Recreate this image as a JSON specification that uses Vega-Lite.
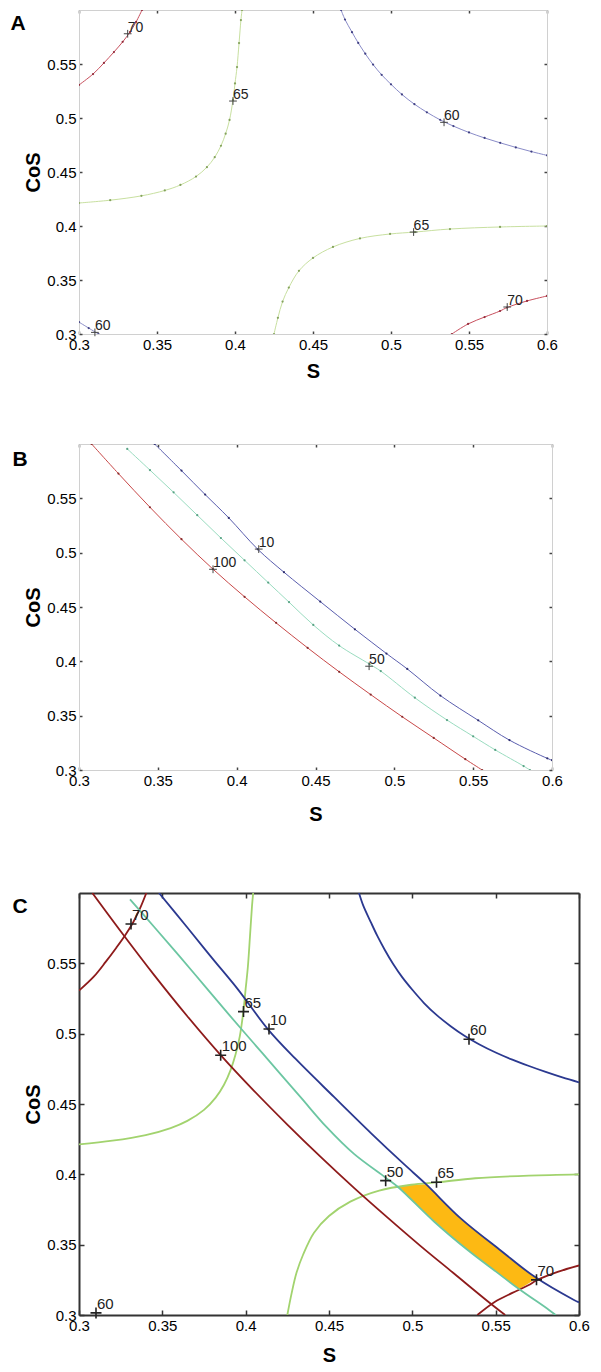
{
"$schema":"https://vega.github.io/schema/vega-lite/v6.json",
"background":"white",
"padding":{"left":10,"top":9,"right":5,"bottom":2},
"spacing":62,
"datasets":{
"curves":[
{"fn":"A","lev":"70","id":"70a","S":0.3,"CoS":0.5306},{"fn":"A","lev":"70","id":"70a","S":0.309,"CoS":0.5407},{"fn":"A","lev":"70","id":"70a","S":0.316,"CoS":0.551},{"fn":"A","lev":"70","id":"70a","S":0.3224,"CoS":0.5611},{"fn":"A","lev":"70","id":"70a","S":0.328,"CoS":0.5705},{"fn":"A","lev":"70","id":"70a","S":0.3327,"CoS":0.5796},{"fn":"A","lev":"70","id":"70a","S":0.3366,"CoS":0.589},{"fn":"A","lev":"70","id":"70a","S":0.3404,"CoS":0.6},
{"fn":"A","lev":"70","id":"70b","S":0.539,"CoS":0.3},{"fn":"A","lev":"70","id":"70b","S":0.5494,"CoS":0.3093},{"fn":"A","lev":"70","id":"70b","S":0.56,"CoS":0.3157},{"fn":"A","lev":"70","id":"70b","S":0.5699,"CoS":0.3213},{"fn":"A","lev":"70","id":"70b","S":0.5744,"CoS":0.3245},{"fn":"A","lev":"70","id":"70b","S":0.5872,"CoS":0.3306},{"fn":"A","lev":"70","id":"70b","S":0.6,"CoS":0.3352},
{"fn":"A","lev":"65","id":"65a","S":0.3,"CoS":0.4213},{"fn":"A","lev":"65","id":"65a","S":0.32,"CoS":0.4239},{"fn":"A","lev":"65","id":"65a","S":0.34,"CoS":0.4279},{"fn":"A","lev":"65","id":"65a","S":0.355,"CoS":0.4329},{"fn":"A","lev":"65","id":"65a","S":0.365,"CoS":0.438},{"fn":"A","lev":"65","id":"65a","S":0.375,"CoS":0.4458},{"fn":"A","lev":"65","id":"65a","S":0.382,"CoS":0.4545},{"fn":"A","lev":"65","id":"65a","S":0.387,"CoS":0.4637},{"fn":"A","lev":"65","id":"65a","S":0.391,"CoS":0.4743},{"fn":"A","lev":"65","id":"65a","S":0.394,"CoS":0.4855},{"fn":"A","lev":"65","id":"65a","S":0.3965,"CoS":0.4982},{"fn":"A","lev":"65","id":"65a","S":0.3987,"CoS":0.5167},{"fn":"A","lev":"65","id":"65a","S":0.4,"CoS":0.532},{"fn":"A","lev":"65","id":"65a","S":0.4013,"CoS":0.5472},{"fn":"A","lev":"65","id":"65a","S":0.4026,"CoS":0.5694},{"fn":"A","lev":"65","id":"65a","S":0.4038,"CoS":0.5907},{"fn":"A","lev":"65","id":"65a","S":0.4045,"CoS":0.6},
{"fn":"A","lev":"65","id":"65b","S":0.425,"CoS":0.3},{"fn":"A","lev":"65","id":"65b","S":0.4275,"CoS":0.315},{"fn":"A","lev":"65","id":"65b","S":0.4305,"CoS":0.33},{"fn":"A","lev":"65","id":"65b","S":0.4345,"CoS":0.343},{"fn":"A","lev":"65","id":"65b","S":0.441,"CoS":0.3585},{"fn":"A","lev":"65","id":"65b","S":0.45,"CoS":0.3704},{"fn":"A","lev":"65","id":"65b","S":0.4628,"CoS":0.3806},{"fn":"A","lev":"65","id":"65b","S":0.4801,"CoS":0.3885},{"fn":"A","lev":"65","id":"65b","S":0.4994,"CoS":0.3926},{"fn":"A","lev":"65","id":"65b","S":0.5154,"CoS":0.3944},{"fn":"A","lev":"65","id":"65b","S":0.5378,"CoS":0.3972},{"fn":"A","lev":"65","id":"65b","S":0.5699,"CoS":0.3991},{"fn":"A","lev":"65","id":"65b","S":0.6,"CoS":0.4},
{"fn":"A","lev":"60","id":"60a","S":0.468,"CoS":0.6},{"fn":"A","lev":"60","id":"60a","S":0.4705,"CoS":0.5912},{"fn":"A","lev":"60","id":"60a","S":0.475,"CoS":0.5795},{"fn":"A","lev":"60","id":"60a","S":0.479,"CoS":0.5695},{"fn":"A","lev":"60","id":"60a","S":0.4835,"CoS":0.5595},{"fn":"A","lev":"60","id":"60a","S":0.4885,"CoS":0.5495},{"fn":"A","lev":"60","id":"60a","S":0.494,"CoS":0.54},{"fn":"A","lev":"60","id":"60a","S":0.5,"CoS":0.5312},{"fn":"A","lev":"60","id":"60a","S":0.507,"CoS":0.5218},{"fn":"A","lev":"60","id":"60a","S":0.515,"CoS":0.5128},{"fn":"A","lev":"60","id":"60a","S":0.523,"CoS":0.5053},{"fn":"A","lev":"60","id":"60a","S":0.5315,"CoS":0.4983},{"fn":"A","lev":"60","id":"60a","S":0.54,"CoS":0.4925},{"fn":"A","lev":"60","id":"60a","S":0.55,"CoS":0.4866},{"fn":"A","lev":"60","id":"60a","S":0.56,"CoS":0.4815},{"fn":"A","lev":"60","id":"60a","S":0.57,"CoS":0.477},{"fn":"A","lev":"60","id":"60a","S":0.58,"CoS":0.4728},{"fn":"A","lev":"60","id":"60a","S":0.59,"CoS":0.4689},{"fn":"A","lev":"60","id":"60a","S":0.6,"CoS":0.4654},
{"fn":"A","lev":"60","id":"60b","S":0.3,"CoS":0.311},{"fn":"A","lev":"60","id":"60b","S":0.3062,"CoS":0.3055},{"fn":"A","lev":"60","id":"60b","S":0.3125,"CoS":0.3},
{"fn":"B","lev":"10","id":"10","S":0.348,"CoS":0.6},{"fn":"B","lev":"10","id":"10","S":0.365,"CoS":0.5755},{"fn":"B","lev":"10","id":"10","S":0.38,"CoS":0.5535},{"fn":"B","lev":"10","id":"10","S":0.395,"CoS":0.532},{"fn":"B","lev":"10","id":"10","S":0.4134,"CoS":0.5031},{"fn":"B","lev":"10","id":"10","S":0.43,"CoS":0.482},{"fn":"B","lev":"10","id":"10","S":0.453,"CoS":0.455},{"fn":"B","lev":"10","id":"10","S":0.475,"CoS":0.4295},{"fn":"B","lev":"10","id":"10","S":0.495,"CoS":0.4072},{"fn":"B","lev":"10","id":"10","S":0.5082,"CoS":0.393},{"fn":"B","lev":"10","id":"10","S":0.5292,"CoS":0.3685},{"fn":"B","lev":"10","id":"10","S":0.5532,"CoS":0.3457},{"fn":"B","lev":"10","id":"10","S":0.573,"CoS":0.3275},{"fn":"B","lev":"10","id":"10","S":0.597,"CoS":0.3107},{"fn":"B","lev":"10","id":"10","S":0.6,"CoS":0.309},
{"fn":"B","lev":"50","id":"50","S":0.3306,"CoS":0.5955},{"fn":"B","lev":"50","id":"50","S":0.345,"CoS":0.576},{"fn":"B","lev":"50","id":"50","S":0.36,"CoS":0.5555},{"fn":"B","lev":"50","id":"50","S":0.375,"CoS":0.5345},{"fn":"B","lev":"50","id":"50","S":0.39,"CoS":0.5135},{"fn":"B","lev":"50","id":"50","S":0.405,"CoS":0.493},{"fn":"B","lev":"50","id":"50","S":0.42,"CoS":0.4725},{"fn":"B","lev":"50","id":"50","S":0.4332,"CoS":0.4545},{"fn":"B","lev":"50","id":"50","S":0.4486,"CoS":0.4335},{"fn":"B","lev":"50","id":"50","S":0.465,"CoS":0.4145},{"fn":"B","lev":"50","id":"50","S":0.4842,"CoS":0.3975},{"fn":"B","lev":"50","id":"50","S":0.4914,"CoS":0.391},{"fn":"B","lev":"50","id":"50","S":0.513,"CoS":0.3665},{"fn":"B","lev":"50","id":"50","S":0.5334,"CoS":0.346},{"fn":"B","lev":"50","id":"50","S":0.55,"CoS":0.331},{"fn":"B","lev":"50","id":"50","S":0.564,"CoS":0.3185},{"fn":"B","lev":"50","id":"50","S":0.582,"CoS":0.3036},{"fn":"B","lev":"50","id":"50","S":0.586,"CoS":0.3},
{"fn":"B","lev":"100","id":"100","S":0.308,"CoS":0.6},{"fn":"B","lev":"100","id":"100","S":0.325,"CoS":0.5728},{"fn":"B","lev":"100","id":"100","S":0.345,"CoS":0.5418},{"fn":"B","lev":"100","id":"100","S":0.365,"CoS":0.5124},{"fn":"B","lev":"100","id":"100","S":0.385,"CoS":0.4848},{"fn":"B","lev":"100","id":"100","S":0.405,"CoS":0.4594},{"fn":"B","lev":"100","id":"100","S":0.425,"CoS":0.4354},{"fn":"B","lev":"100","id":"100","S":0.445,"CoS":0.4124},{"fn":"B","lev":"100","id":"100","S":0.465,"CoS":0.3904},{"fn":"B","lev":"100","id":"100","S":0.485,"CoS":0.3694},{"fn":"B","lev":"100","id":"100","S":0.505,"CoS":0.349},{"fn":"B","lev":"100","id":"100","S":0.525,"CoS":0.3295},{"fn":"B","lev":"100","id":"100","S":0.545,"CoS":0.31},{"fn":"B","lev":"100","id":"100","S":0.5557,"CoS":0.3}
],
"labels":[
{"fn":"A","t":"70","S":0.3312,"CoS":0.578},{"fn":"A","t":"65","S":0.3987,"CoS":0.5157},{"fn":"A","t":"60","S":0.534,"CoS":0.496},{"fn":"A","t":"65","S":0.5145,"CoS":0.3944},{"fn":"A","t":"70","S":0.5745,"CoS":0.325},{"fn":"A","t":"60","S":0.3102,"CoS":0.3015},
{"fn":"B","t":"10","S":0.414,"CoS":0.5033},{"fn":"B","t":"100","S":0.385,"CoS":0.4847},{"fn":"B","t":"50","S":0.484,"CoS":0.3955}
],
"region":[
{"S":0.4914,"lo":0.3909,"hi":0.3912},{"S":0.5,"lo":0.381,"hi":0.3926},{"S":0.5082,"lo":0.372,"hi":0.393},{"S":0.52,"lo":0.3595,"hi":0.3792},{"S":0.5292,"lo":0.3502,"hi":0.3685},{"S":0.5334,"lo":0.346,"hi":0.3645},{"S":0.5532,"lo":0.3281,"hi":0.3457},{"S":0.564,"lo":0.3185,"hi":0.3355},{"S":0.5685,"lo":0.3215,"hi":0.3315},{"S":0.573,"lo":0.3248,"hi":0.3275},{"S":0.5747,"lo":0.326,"hi":0.326}
]
},
"vconcat":[
{
"width":468,"height":324,
"title":{"text":"A","orient":"left","anchor":"end","frame":"group","angle":0,"align":"right","baseline":"top","fontSize":21,"fontWeight":"bold","color":"#000","offset":-17,"dy":3},
"layer":[
{"data":{"name":"curves"},"transform":[{"filter":"datum.fn=='A'"}],
"mark":{"type":"line","clip":true,"strokeWidth":1,"interpolate":"catmull-rom"},
"encoding":{
"x":{"field":"S","type":"quantitative","scale":{"domain":[0.3,0.6],"nice":false,"zero":false},"axis":{"orient":"bottom","values":[0.3,0.35,0.4,0.45,0.5,0.55,0.6],"format":"~g","title":"S","tickSize":-3,"labelPadding":6,"titlePadding":9,"domainColor":"#d0d0d0","tickColor":"#444","tickWidth":1.5}},
"y":{"field":"CoS","type":"quantitative","scale":{"domain":[0.3,0.6],"nice":false,"zero":false},"axis":{"orient":"left","values":[0.3,0.35,0.4,0.45,0.5,0.55],"format":"~g","title":"CoS","tickSize":-3,"labelPadding":6,"titlePadding":3,"domainColor":"#d0d0d0","tickColor":"#444","tickWidth":1.5}},
"color":{"field":"lev","type":"nominal","scale":{"domain":["60","65","70"],"range":["#8a8cc8","#c8e0a0","#c8505e"]},"legend":null},
"detail":{"field":"id","type":"nominal"}}},
{"data":{"name":"curves"},"transform":[{"filter":"datum.fn=='A'"}],
"mark":{"type":"point","filled":true,"size":5,"clip":true,"opacity":0.9},
"encoding":{
"x":{"field":"S","type":"quantitative","scale":{"domain":[0.3,0.6],"nice":false,"zero":false},"axis":{"orient":"top","values":[0.3,0.35,0.4,0.45,0.5,0.55,0.6],"labels":false,"title":null,"tickSize":-3,"domainColor":"#d0d0d0","tickColor":"#444","tickWidth":1.5}},
"y":{"field":"CoS","type":"quantitative","scale":{"domain":[0.3,0.6],"nice":false,"zero":false},"axis":{"orient":"right","values":[0.3,0.35,0.4,0.45,0.5,0.55],"labels":false,"title":null,"tickSize":-3,"domainColor":"#d0d0d0","tickColor":"#444","tickWidth":1.5}},
"fill":{"field":"lev","type":"nominal","scale":{"domain":["60","65","70"],"range":["#33337a","#7a9a50","#8b2030"]},"legend":null}}},
{"data":{"name":"labels"},"transform":[{"filter":"datum.fn=='A'"}],
"mark":{"type":"point","shape":"M-1,0H1M0,-1V1","size":60,"strokeWidth":1,"color":"#444","filled":false,"opacity":1},
"encoding":{"x":{"field":"S","type":"quantitative","axis":null},"y":{"field":"CoS","type":"quantitative","axis":null}}},
{"data":{"name":"labels"},"transform":[{"filter":"datum.fn=='A'"}],
"mark":{"type":"text","align":"left","baseline":"alphabetic","dx":0,"dy":-2,"fontSize":14,"color":"#222"},
"encoding":{"x":{"field":"S","type":"quantitative","axis":null},"y":{"field":"CoS","type":"quantitative","axis":null},"text":{"field":"t"}}}
],
"resolve":{"axis":{"x":"independent","y":"independent"}}
},
{
"width":473,"height":326,
"title":{"text":"B","orient":"left","anchor":"end","frame":"group","angle":0,"align":"right","baseline":"top","fontSize":21,"fontWeight":"bold","color":"#000","offset":-19,"dy":5},
"layer":[
{"data":{"name":"curves"},"transform":[{"filter":"datum.fn=='B'"}],
"mark":{"type":"line","clip":true,"strokeWidth":1,"interpolate":"catmull-rom"},
"encoding":{
"x":{"field":"S","type":"quantitative","scale":{"domain":[0.3,0.6],"nice":false,"zero":false},"axis":{"orient":"bottom","values":[0.3,0.35,0.4,0.45,0.5,0.55,0.6],"format":"~g","title":["S",""],"titleLineHeight":6,"tickSize":-3,"labelPadding":6,"titlePadding":16,"domainColor":"#d0d0d0","tickColor":"#444","tickWidth":1.5}},
"y":{"field":"CoS","type":"quantitative","scale":{"domain":[0.3,0.6],"nice":false,"zero":false},"axis":{"orient":"left","values":[0.3,0.35,0.4,0.45,0.5,0.55],"format":"~g","title":"CoS","tickSize":-3,"labelPadding":6,"titlePadding":3,"domainColor":"#d0d0d0","tickColor":"#444","tickWidth":1.5}},
"color":{"field":"lev","type":"nominal","scale":{"domain":["10","50","100"],"range":["#5a5eae","#9adcc0","#c84848"]},"legend":null},
"detail":{"field":"id","type":"nominal"}}},
{"data":{"name":"curves"},"transform":[{"filter":"datum.fn=='B'"}],
"mark":{"type":"point","filled":true,"size":5,"clip":true,"opacity":0.9},
"encoding":{
"x":{"field":"S","type":"quantitative","scale":{"domain":[0.3,0.6],"nice":false,"zero":false},"axis":{"orient":"top","values":[0.3,0.35,0.4,0.45,0.5,0.55,0.6],"labels":false,"title":null,"tickSize":-3,"domainColor":"#d0d0d0","tickColor":"#444","tickWidth":1.5}},
"y":{"field":"CoS","type":"quantitative","scale":{"domain":[0.3,0.6],"nice":false,"zero":false},"axis":{"orient":"right","values":[0.3,0.35,0.4,0.45,0.5,0.55],"labels":false,"title":null,"tickSize":-3,"domainColor":"#d0d0d0","tickColor":"#444","tickWidth":1.5}},
"fill":{"field":"lev","type":"nominal","scale":{"domain":["10","50","100"],"range":["#222266","#4a9a7a","#802020"]},"legend":null}}},
{"data":{"name":"labels"},"transform":[{"filter":"datum.fn=='B'"}],
"mark":{"type":"point","shape":"M-1,0H1M0,-1V1","size":60,"strokeWidth":1,"color":"#444","filled":false,"opacity":1},
"encoding":{"x":{"field":"S","type":"quantitative","axis":null},"y":{"field":"CoS","type":"quantitative","axis":null}}},
{"data":{"name":"labels"},"transform":[{"filter":"datum.fn=='B'"}],
"mark":{"type":"text","align":"left","baseline":"alphabetic","dx":0,"dy":-2,"fontSize":14,"color":"#222"},
"encoding":{"x":{"field":"S","type":"quantitative","axis":null},"y":{"field":"CoS","type":"quantitative","axis":null},"text":{"field":"t"}}}
],
"resolve":{"axis":{"x":"independent","y":"independent"}}
},
{
"width":500,"height":422,
"title":{"text":"C","orient":"left","anchor":"end","frame":"group","angle":0,"align":"right","baseline":"top","fontSize":21,"fontWeight":"bold","color":"#000","offset":-19,"dy":3},
"layer":[
{"data":{"name":"region"},
"mark":{"type":"area","color":"#fdb913","opacity":1},
"encoding":{"x":{"field":"S","type":"quantitative","scale":{"domain":[0.3,0.6],"nice":false,"zero":false},"axis":null},"y":{"field":"lo","type":"quantitative","scale":{"domain":[0.3,0.6],"nice":false,"zero":false},"axis":null},"y2":{"field":"hi"}}},
{"data":{"name":"curves"},"transform":[{"filter":"datum.id!='60b'"}],
"mark":{"type":"line","clip":true,"strokeWidth":1.8,"interpolate":"catmull-rom"},
"encoding":{
"x":{"field":"S","type":"quantitative","scale":{"domain":[0.3,0.6],"nice":false,"zero":false},"axis":{"orient":"bottom","values":[0.3,0.35,0.4,0.45,0.5,0.55,0.6],"format":"~g","title":"S","tickSize":-5,"labelPadding":8,"titlePadding":12,"domainColor":"#333","domainWidth":2,"tickColor":"#333","tickWidth":1.5}},
"y":{"field":"CoS","type":"quantitative","scale":{"domain":[0.3,0.6],"nice":false,"zero":false},"axis":{"orient":"left","values":[0.3,0.35,0.4,0.45,0.5,0.55],"format":"~g","title":"CoS","tickSize":-5,"labelPadding":8,"titlePadding":3,"domainColor":"#333","domainWidth":2,"tickColor":"#333","tickWidth":1.5}},
"color":{"field":"lev","type":"nominal","scale":{"domain":["60","65","70","10","50","100"],"range":["#2b3990","#a2d36e","#8e1b1b","#2b3990","#6cc6a2","#8e1b1b"]},"legend":null},
"detail":{"field":"id","type":"nominal"}}},
{"data":{"name":"labels"},
"mark":{"type":"point","shape":"M-1,0H1M0,-1V1","size":121,"strokeWidth":1.6,"color":"#222","filled":false,"opacity":1},
"encoding":{
"x":{"field":"S","type":"quantitative","scale":{"domain":[0.3,0.6],"nice":false,"zero":false},"axis":{"orient":"top","values":[0.3,0.35,0.4,0.45,0.5,0.55,0.6],"labels":false,"title":null,"tickSize":-5,"domainColor":"#333","domainWidth":2,"tickColor":"#333","tickWidth":1.5}},
"y":{"field":"CoS","type":"quantitative","scale":{"domain":[0.3,0.6],"nice":false,"zero":false},"axis":{"orient":"right","values":[0.3,0.35,0.4,0.45,0.5,0.55],"labels":false,"title":null,"tickSize":-5,"domainColor":"#333","domainWidth":2,"tickColor":"#333","tickWidth":1.5}}}},
{"data":{"name":"labels"},
"mark":{"type":"text","align":"left","baseline":"alphabetic","dx":1,"dy":-4,"fontSize":15,"color":"#222"},
"encoding":{"x":{"field":"S","type":"quantitative","axis":null},"y":{"field":"CoS","type":"quantitative","axis":null},"text":{"field":"t"}}}
],
"resolve":{"axis":{"x":"independent","y":"independent"}}
}
],
"resolve":{"scale":{"color":"independent","fill":"independent"}},
"config":{
"font":"Liberation Sans",
"view":{"stroke":null},
"axis":{"grid":false,"labelFont":"Liberation Sans","labelFontSize":15,"labelColor":"#000","titleFont":"Liberation Sans","titleFontSize":20,"titleFontWeight":"bold","titleColor":"#000","labelFlush":false,"labelOverlap":false},
"title":{"font":"Liberation Sans"}
}
}
